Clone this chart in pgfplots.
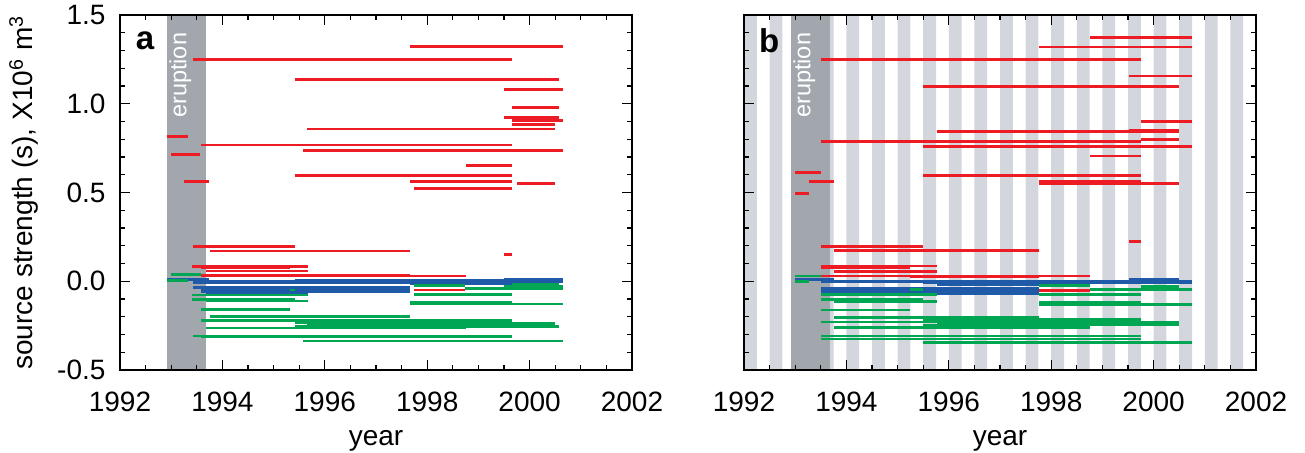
\documentclass[border=0pt]{standalone}
\usepackage{fontspec}
\setmainfont{Liberation Sans}
\usepackage{pgfplots}
\usepackage{pgfplotstable}
\pgfplotsset{compat=1.18}

\definecolor{segred}{RGB}{237,28,36}
\definecolor{seggreen}{RGB}{0,166,81}
\definecolor{segblue}{RGB}{30,90,168}
\definecolor{erupt}{RGB}{162,167,174}
\definecolor{stripe}{RGB}{211,214,221}

% segments: start year, end year, source strength
\pgfplotstableread{
x0 x1 y
1997.66 2000.66 1.322
1998.75 2000.66 1.326
1993.42 1999.66 1.251
1995.42 2000.57 1.135
1999.50 2000.66 1.082
1999.66 2000.57 0.977
1999.50 2000.57 0.922
1999.66 2000.66 0.904
1999.66 2000.49 0.883
1995.66 2000.49 0.857
1992.92 1993.32 0.815
1993.58 1999.66 0.768
1995.58 2000.66 0.736
1993.00 1993.57 0.714
1998.75 1999.66 0.650
1995.42 1999.66 0.595
1993.25 1993.74 0.561
1997.66 1999.66 0.561
1999.75 2000.49 0.552
1997.75 1999.66 0.522
1993.42 1995.42 0.195
1993.76 1997.66 0.171
1999.50 1999.66 0.150
1993.41 1995.67 0.085
1993.58 1995.32 0.075
1993.67 1995.67 0.058
1993.58 1997.66 0.034
1993.76 1998.75 0.029
1997.74 1998.74 -0.049
}\redA
\pgfplotstableread{
x0 x1 y
1992.99 1993.58 0.036
1992.91 1993.33 0.004
1997.74 1998.74 -0.024
1999.50 2000.66 -0.028
1999.66 2000.57 -0.020
1998.74 2000.66 -0.043
1995.32 1995.42 -0.049
1993.41 1995.67 -0.077
1997.74 1999.65 -0.073
1993.41 1995.42 -0.102
1993.67 1995.67 -0.111
1997.66 1999.65 -0.118
1997.66 2000.66 -0.128
1993.58 1995.32 -0.158
1993.76 1997.66 -0.198
1993.58 1999.66 -0.220
1995.42 1997.66 -0.232
1995.66 2000.49 -0.240
1995.42 2000.57 -0.254
1993.68 1998.75 -0.263
1993.42 1999.66 -0.308
1993.58 1999.66 -0.314
1995.58 2000.66 -0.336
}\greenA
\pgfplotstableread{
x0 x1 y
1992.92 1993.74 0.011
1993.42 2000.66 0.000
1995.42 2000.66 0.006
1999.50 2000.66 0.012
1993.42 1999.66 -0.010
1997.66 1999.66 -0.015
1993.42 1997.66 -0.035
1993.58 1997.66 -0.046
1993.58 1997.66 -0.057
1993.68 1995.67 -0.070
}\blueA
\pgfplotstableread{
x0 x1 y
1998.76 2000.75 1.375
1997.76 2000.75 1.319
1993.50 1999.75 1.251
1999.51 2000.75 1.156
1995.50 2000.50 1.097
1999.75 2000.75 0.902
1999.51 2000.50 0.852
1999.51 2000.50 0.846
1995.76 2000.50 0.842
1999.75 2000.50 0.800
1993.50 1999.75 0.789
1995.50 2000.75 0.759
1998.76 1999.75 0.706
1993.00 1993.50 0.614
1995.50 1999.75 0.595
1993.26 1993.76 0.561
1997.76 1999.75 0.563
1997.76 1999.75 0.550
1999.75 2000.50 0.552
1993.00 1993.26 0.496
1999.51 1999.75 0.222
1993.50 1995.50 0.195
1993.76 1997.76 0.173
1993.50 1995.76 0.086
1993.50 1995.25 0.078
1993.76 1995.76 0.056
1993.50 1998.76 0.030
1995.25 1997.76 0.028
1997.76 1998.76 -0.051
}\redB
\pgfplotstableread{
x0 x1 y
1993.00 1993.50 0.030
1993.00 1993.26 -0.002
1997.76 1998.76 -0.026
1999.75 2000.50 -0.028
1999.75 2000.50 -0.036
1998.76 2000.75 -0.045
1995.25 1995.50 -0.046
1993.50 1995.76 -0.075
1997.76 1999.75 -0.075
1993.50 1995.50 -0.102
1993.76 1995.76 -0.113
1997.76 1999.75 -0.118
1997.76 2000.75 -0.132
1993.50 1995.25 -0.162
1993.76 1997.76 -0.203
1995.50 1999.75 -0.214
1993.50 1999.75 -0.229
1995.76 2000.50 -0.233
1995.50 2000.50 -0.246
1993.76 1998.76 -0.260
1993.50 1999.75 -0.308
1993.50 1999.75 -0.325
1995.50 2000.75 -0.344
}\greenB
\pgfplotstableread{
x0 x1 y
1993.00 1993.76 0.011
1993.50 2000.75 0.000
1995.50 2000.50 -0.008
1999.51 2000.50 0.013
1999.51 2000.75 -0.008
1995.76 1998.76 -0.020
1993.50 1997.76 -0.040
1993.50 1997.76 -0.050
1993.50 1997.76 -0.058
1993.50 1997.76 -0.068
}\blueB

\pgfplotsset{
  srcaxis/.style={
    scale only axis, width=204.8pt, height=142pt,
    xmin=1992, xmax=2002, ymin=-0.5, ymax=1.5,
    xtick={1992,1994,1996,1998,2000,2002}, minor x tick num=3,
    ytick={-0.5,0,0.5,1,1.5}, minor y tick num=4,
    tick align=inside, major tick length=4pt, minor tick length=2pt,
    axis line style={line width=0.7pt},
    every tick/.style={black, line width=0.5pt},
    axis on top,
    tick label style={font=\fontsize{11.2}{13}\selectfont},
    label style={font=\fontsize{11.2}{13}\selectfont},
    /pgf/number format/assume math mode=true,
    xticklabel style={inner sep=0pt, yshift=-8.7pt,
      /pgf/number format/set thousands separator={}},
    yticklabel style={inner sep=0pt, xshift=-5.6pt,
      /pgf/number format/.cd, fixed, fixed zerofill, precision=1},
    xlabel={year},
    xlabel style={at={(axis description cs:0.5,0)}, anchor=center, yshift=-28.3pt},
  },
  seg/.style={quiver={u=\thisrow{x1}-\thisrow{x0}, v=0}, line width=1.1pt},
}

\begin{document}
\begin{tikzpicture}
\begin{axis}[srcaxis, at={(0,0)}, anchor=south west,
  ylabel={source strength (s), X10\textsuperscript{6} m\textsuperscript{3}},
  ylabel style={at={(axis description cs:-0.1875,0.5)}, anchor=center, rotate=0},
]
\addplot[fill=erupt, draw=none] coordinates {(1992.92,-0.5) (1993.68,-0.5) (1993.68,1.5) (1992.92,1.5)} -- cycle;
\addplot[seg, segblue] table[x=x0, y=y] {\blueA};
\addplot[seg, seggreen] table[x=x0, y=y] {\greenA};
\addplot[seg, segred] table[x=x0, y=y] {\redA};
\node[rotate=90, text=white, font=\fontsize{9.4}{11}\selectfont] at (axis cs:1993.18,1.16) {eruption};
\node[font=\fontsize{13.2}{15}\selectfont\bfseries] at (axis cs:1992.49,1.355) {a};
\end{axis}

\begin{axis}[srcaxis, at={(249.6pt,0)}, anchor=south west, yticklabels={}]
\addplot[fill=stripe, draw=none, unbounded coords=jump] table[row sep=\\] {
x y\\
1992.0 -0.5\\ 1992.25 -0.5\\ 1992.25 1.5\\ 1992.0 1.5\\ nan nan\\
1992.5 -0.5\\ 1992.75 -0.5\\ 1992.75 1.5\\ 1992.5 1.5\\ nan nan\\
1993.0 -0.5\\ 1993.25 -0.5\\ 1993.25 1.5\\ 1993.0 1.5\\ nan nan\\
1993.5 -0.5\\ 1993.75 -0.5\\ 1993.75 1.5\\ 1993.5 1.5\\ nan nan\\
1994.0 -0.5\\ 1994.25 -0.5\\ 1994.25 1.5\\ 1994.0 1.5\\ nan nan\\
1994.5 -0.5\\ 1994.75 -0.5\\ 1994.75 1.5\\ 1994.5 1.5\\ nan nan\\
1995.0 -0.5\\ 1995.25 -0.5\\ 1995.25 1.5\\ 1995.0 1.5\\ nan nan\\
1995.5 -0.5\\ 1995.75 -0.5\\ 1995.75 1.5\\ 1995.5 1.5\\ nan nan\\
1996.0 -0.5\\ 1996.25 -0.5\\ 1996.25 1.5\\ 1996.0 1.5\\ nan nan\\
1996.5 -0.5\\ 1996.75 -0.5\\ 1996.75 1.5\\ 1996.5 1.5\\ nan nan\\
1997.0 -0.5\\ 1997.25 -0.5\\ 1997.25 1.5\\ 1997.0 1.5\\ nan nan\\
1997.5 -0.5\\ 1997.75 -0.5\\ 1997.75 1.5\\ 1997.5 1.5\\ nan nan\\
1998.0 -0.5\\ 1998.25 -0.5\\ 1998.25 1.5\\ 1998.0 1.5\\ nan nan\\
1998.5 -0.5\\ 1998.75 -0.5\\ 1998.75 1.5\\ 1998.5 1.5\\ nan nan\\
1999.0 -0.5\\ 1999.25 -0.5\\ 1999.25 1.5\\ 1999.0 1.5\\ nan nan\\
1999.5 -0.5\\ 1999.75 -0.5\\ 1999.75 1.5\\ 1999.5 1.5\\ nan nan\\
2000.0 -0.5\\ 2000.25 -0.5\\ 2000.25 1.5\\ 2000.0 1.5\\ nan nan\\
2000.5 -0.5\\ 2000.75 -0.5\\ 2000.75 1.5\\ 2000.5 1.5\\ nan nan\\
2001.0 -0.5\\ 2001.25 -0.5\\ 2001.25 1.5\\ 2001.0 1.5\\ nan nan\\
2001.5 -0.5\\ 2001.75 -0.5\\ 2001.75 1.5\\ 2001.5 1.5\\
};
\addplot[fill=erupt, draw=none] coordinates {(1992.92,-0.5) (1993.68,-0.5) (1993.68,1.5) (1992.92,1.5)} -- cycle;
\addplot[seg, segblue] table[x=x0, y=y] {\blueB};
\addplot[seg, seggreen] table[x=x0, y=y] {\greenB};
\addplot[seg, segred] table[x=x0, y=y] {\redB};
\node[rotate=90, text=white, font=\fontsize{9.4}{11}\selectfont] at (axis cs:1993.18,1.16) {eruption};
\node[font=\fontsize{13.2}{15}\selectfont\bfseries] at (axis cs:1992.49,1.355) {b};
\end{axis}
\pgfresetboundingbox
\path[use as bounding box] (-48pt,-33.2pt) rectangle (474pt,148pt);
\end{tikzpicture}
\end{document}
